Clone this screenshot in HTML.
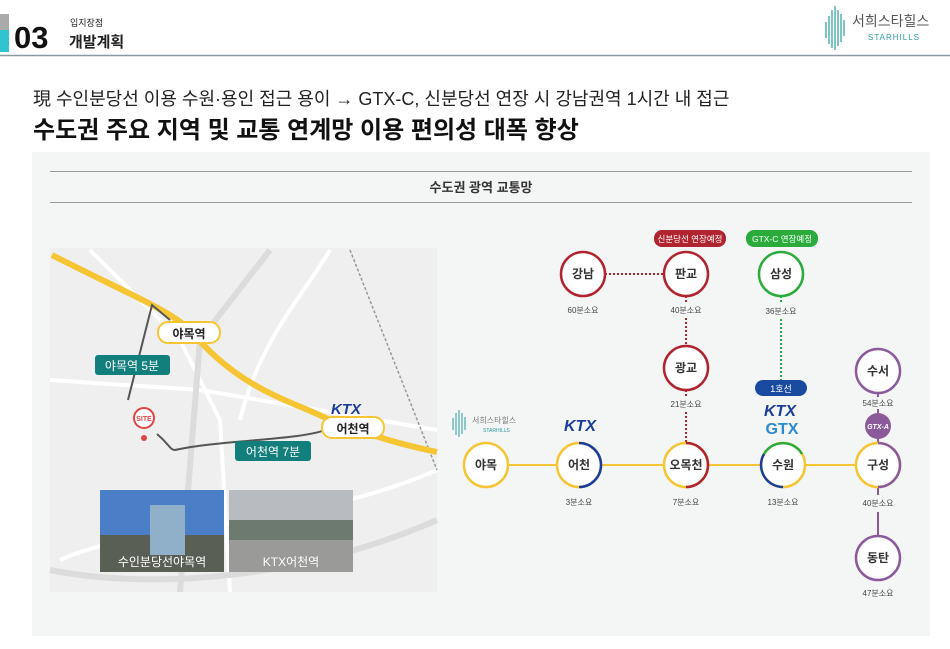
<!DOCTYPE html>
<html><head><meta charset="utf-8"><style>
body{margin:0;width:950px;height:644px;background:#fff;overflow:hidden;font-family:"Liberation Sans","Noto Sans CJK KR",sans-serif}
svg text{font-family:"Liberation Sans","Noto Sans CJK KR",sans-serif}
</style></head><body>
<svg width="950" height="644" viewBox="0 0 950 644" xmlns="http://www.w3.org/2000/svg">
<!-- header -->
<rect x="0" y="14" width="9" height="16" fill="#aaa"/>
<rect x="0" y="30" width="9" height="22" fill="#2fc4cf"/>
<text x="14" y="48" font-size="31" font-weight="bold" fill="#111">03</text>
<text x="70" y="26" font-size="9" fill="#222">입지장점</text>
<text x="69" y="47" font-size="15" font-weight="bold" fill="#222">개발계획</text>
<line x1="0" y1="55.5" x2="950" y2="55.5" stroke="#8a9aa5" stroke-width="1.5"/>
<g stroke="#2a9ba0" stroke-width="1.2">
<line x1="826" y1="22" x2="826" y2="38"/><line x1="829" y1="16" x2="829" y2="44"/><line x1="832" y1="10" x2="832" y2="48"/><line x1="835" y1="6" x2="835" y2="50"/><line x1="838" y1="10" x2="838" y2="46"/><line x1="841" y1="14" x2="841" y2="42"/><line x1="844" y1="20" x2="844" y2="36"/></g>
<text x="852" y="26" font-size="14" fill="#555">서희스타힐스</text>
<text x="868" y="40" font-size="8" fill="#2a9ba0" letter-spacing="1">STARHILLS</text>
<!-- titles -->
<text x="33" y="105" font-size="18" fill="#222">現 수인분당선 이용 수원·용인 접근 용이 <tspan font-weight="bold">→</tspan> GTX-C, 신분당선 연장 시 강남권역 1시간 내 접근</text>
<text x="33" y="138" font-size="24" font-weight="bold" fill="#111">수도권 주요 지역 및 교통 연계망 이용 편의성 대폭 향상</text>
<!-- panel -->
<rect x="32" y="152" width="898" height="484" fill="#f4f5f5"/>
<line x1="50" y1="171.5" x2="912" y2="171.5" stroke="#999" stroke-width="1"/>
<line x1="50" y1="202.5" x2="912" y2="202.5" stroke="#999" stroke-width="1"/>
<text x="481" y="192" font-size="13" font-weight="bold" fill="#333" text-anchor="middle">수도권 광역 교통망</text>
<!-- map -->
<rect x="50" y="248" width="387" height="344" fill="#efefef"/>
<g stroke="#fff" stroke-width="4" fill="none">
<path d="M90 250 L180 340 L220 420 L230 592"/><path d="M50 380 L200 390 L437 430"/>
<path d="M60 560 C150 520 300 530 437 470"/><path d="M330 250 C300 300 260 340 240 420"/></g>
<g stroke="#dcdcdc" stroke-width="6" fill="none"><path d="M270 250 L200 340 L180 592"/><path d="M50 570 C150 590 300 580 437 520"/></g>
<path d="M350 250 L437 470" stroke="#999" stroke-width="1.5" stroke-dasharray="3,2" fill="none"/>
<path d="M52 255 C120 290 170 310 190 330 C240 390 290 400 330 420 C360 430 380 440 437 452" stroke="#f5c534" stroke-width="6" fill="none"/>
<path d="M128 400 L152 305 L170 320" stroke="#555" stroke-width="2" fill="none"/>
<path d="M157 434 C170 445 170 450 175 450 C220 440 300 440 325 430" stroke="#555" stroke-width="2" fill="none"/>
<rect x="158" y="322" width="62" height="21" rx="10" fill="#fff" stroke="#f5c534" stroke-width="2"/>
<text x="189" y="338" font-size="12" font-weight="bold" text-anchor="middle" fill="#222">야목역</text>
<rect x="95" y="355" width="75" height="20" rx="3" fill="#137f7c"/>
<text x="132" y="370" font-size="12" fill="#fff" text-anchor="middle">야목역 5분</text>
<rect x="235" y="441" width="76" height="20" rx="3" fill="#137f7c"/>
<text x="273" y="456" font-size="12" fill="#fff" text-anchor="middle">어천역 7분</text>
<rect x="322" y="417" width="62" height="21" rx="10" fill="#fff" stroke="#f5c534" stroke-width="2"/>
<text x="353" y="433" font-size="12" font-weight="bold" text-anchor="middle" fill="#222">어천역</text>
<text x="331" y="414" font-size="15" font-weight="bold" font-style="italic" fill="#1a3e9a">KTX</text>
<circle cx="144" cy="418" r="10" fill="#fff" stroke="#e04545" stroke-width="2"/>
<text x="144" y="421" font-size="7" font-weight="bold" text-anchor="middle" fill="#e04545">SITE</text>
<circle cx="144" cy="438" r="3" fill="#e04545"/>
<rect x="100" y="490" width="124" height="82" fill="#4a7fc8"/>
<rect x="100" y="535" width="124" height="37" fill="#5a5f55"/>
<rect x="150" y="505" width="35" height="50" fill="#8fb0c8"/>
<text x="162" y="566" font-size="12" fill="#fff" text-anchor="middle">수인분당선야목역</text>
<rect x="229" y="490" width="124" height="82" fill="#b8bcc0"/>
<rect x="229" y="520" width="124" height="20" fill="#6c7a70"/>
<rect x="229" y="540" width="124" height="32" fill="#9a9a98"/>
<text x="291" y="566" font-size="12" fill="#fff" text-anchor="middle">KTX어천역</text>
<!-- network lines -->
<line x1="486" y1="465" x2="878" y2="465" stroke="#f5c534" stroke-width="2"/>
<line x1="605" y1="274" x2="664" y2="274" stroke="#b0242f" stroke-width="2" stroke-dasharray="2,2"/>
<line x1="686" y1="296" x2="686" y2="302" stroke="#b0242f" stroke-width="2" stroke-dasharray="2,2"/>
<line x1="686" y1="318" x2="686" y2="346" stroke="#b0242f" stroke-width="2" stroke-dasharray="2,2"/>
<line x1="686" y1="390" x2="686" y2="396" stroke="#b0242f" stroke-width="2" stroke-dasharray="2,2"/>
<line x1="686" y1="412" x2="686" y2="443" stroke="#b0242f" stroke-width="2" stroke-dasharray="2,2"/>
<line x1="781" y1="296" x2="781" y2="303" stroke="#2aab3c" stroke-width="2" stroke-dasharray="2,2"/>
<line x1="781" y1="319" x2="781" y2="380" stroke="#2aab3c" stroke-width="2" stroke-dasharray="2,2"/>
<line x1="878" y1="393" x2="878" y2="397" stroke="#8a5a9a" stroke-width="2"/>
<line x1="878" y1="409" x2="878" y2="443" stroke="#8a5a9a" stroke-width="2"/>
<line x1="878" y1="487" x2="878" y2="495" stroke="#8a5a9a" stroke-width="2"/>
<line x1="878" y1="512" x2="878" y2="536" stroke="#8a5a9a" stroke-width="2"/>
<g font-size="12" font-weight="bold" text-anchor="middle" fill="#333">
<circle cx="486" cy="465" r="22" fill="#fff" stroke="#f5c534" stroke-width="2.5"/><text x="486" y="469">야목</text>
<circle cx="579" cy="465" r="22" fill="#fff" stroke="#f5c534" stroke-width="2.5"/><path d="M579 443 A22 22 0 0 1 579 487" stroke="#1a3e9a" stroke-width="2.5" fill="none"/><text x="579" y="469">어천</text>
<circle cx="686" cy="465" r="22" fill="#fff" stroke="#f5c534" stroke-width="2.5"/><path d="M686 443 A22 22 0 0 1 686 487" stroke="#b0242f" stroke-width="2.5" fill="none"/><text x="686" y="469">오목천</text>
<circle cx="783" cy="465" r="22" fill="#fff" stroke="#f5c534" stroke-width="2.5"/><path d="M764 454 A22 22 0 0 1 802 454" stroke="#2aab3c" stroke-width="2.5" fill="none"/><path d="M764 454 A22 22 0 0 0 783 487" stroke="#1a3e9a" stroke-width="2.5" fill="none"/><text x="783" y="469">수원</text>
<circle cx="878" cy="465" r="22" fill="#fff" stroke="#f5c534" stroke-width="2.5"/><path d="M878 443 A22 22 0 0 1 878 487" stroke="#8a5a9a" stroke-width="2.5" fill="none"/><text x="878" y="469">구성</text>
<circle cx="583" cy="274" r="22" fill="#fff" stroke="#b0242f" stroke-width="2.5"/><text x="583" y="278">강남</text>
<circle cx="686" cy="274" r="22" fill="#fff" stroke="#b0242f" stroke-width="2.5"/><text x="686" y="278">판교</text>
<circle cx="781" cy="274" r="22" fill="#fff" stroke="#2aab3c" stroke-width="2.5"/><text x="781" y="278">삼성</text>
<circle cx="686" cy="368" r="22" fill="#fff" stroke="#b0242f" stroke-width="2.5"/><text x="686" y="372">광교</text>
<circle cx="878" cy="371" r="22" fill="#fff" stroke="#8a5a9a" stroke-width="2.5"/><text x="878" y="375">수서</text>
<circle cx="878" cy="558" r="22" fill="#fff" stroke="#8a5a9a" stroke-width="2.5"/><text x="878" y="562">동탄</text>
</g>
<g font-size="8" text-anchor="middle" fill="#444">
<text x="583" y="313">60분소요</text><text x="686" y="313">40분소요</text><text x="781" y="314">36분소요</text>
<text x="686" y="407">21분소요</text><text x="878" y="406">54분소요</text>
<text x="579" y="505">3분소요</text><text x="686" y="505">7분소요</text><text x="783" y="505">13분소요</text><text x="878" y="506">40분소요</text>
<text x="878" y="596">47분소요</text></g>
<rect x="654" y="230" width="72" height="17" rx="8" fill="#b0242f"/><text x="690" y="242" font-size="8.5" fill="#fff" text-anchor="middle">신분당선 연장예정</text>
<rect x="746" y="230" width="72" height="17" rx="8" fill="#2aab3c"/><text x="782" y="242" font-size="8.5" fill="#fff" text-anchor="middle">GTX-C 연장예정</text>
<rect x="755" y="380" width="52" height="16" rx="8" fill="#1a4aa0"/><text x="781" y="392" font-size="9" fill="#fff" text-anchor="middle">1호선</text>
<text x="780" y="416" font-size="16" font-weight="bold" font-style="italic" fill="#1a3e9a" text-anchor="middle">KTX</text>
<text x="782" y="434" font-size="16" font-weight="bold" fill="#2a8ad0" text-anchor="middle">GTX</text>
<text x="580" y="431" font-size="16" font-weight="bold" font-style="italic" fill="#1a3e9a" text-anchor="middle">KTX</text>
<circle cx="878" cy="426" r="13" fill="#8a5a9a"/><text x="878" y="429" font-size="7" font-style="italic" font-weight="bold" fill="#fff" text-anchor="middle">GTX-A</text>
<g stroke="#2a9ba0" stroke-width="1"><line x1="453" y1="418" x2="453" y2="430"/><line x1="456" y1="413" x2="456" y2="435"/><line x1="459" y1="410" x2="459" y2="437"/><line x1="462" y1="413" x2="462" y2="434"/><line x1="465" y1="417" x2="465" y2="430"/></g>
<text x="472" y="423" font-size="8" fill="#777">서희스타힐스</text>
<text x="483" y="432" font-size="5" fill="#2a9ba0">STARHILLS</text>
</svg>
</body></html>
